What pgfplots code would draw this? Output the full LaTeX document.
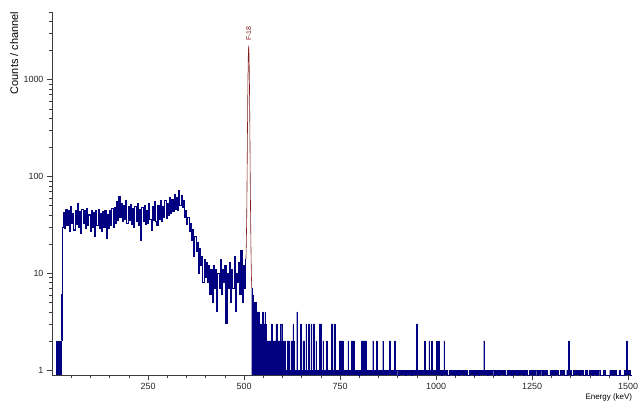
\documentclass[border=0pt]{standalone}
\usepackage{fontspec}
\setmainfont{Liberation Sans}
\usepackage{pgfplots}
\pgfplotsset{compat=1.18}
\definecolor{specblue}{RGB}{0,0,128}
\definecolor{roired}{RGB}{130,30,30}
\definecolor{axisgray}{RGB}{60,60,60}

\begin{document}
\begin{tikzpicture}
\useasboundingbox (-52bp,-28bp) rectangle (589bp,375bp);
\begin{axis}[
  scale only axis, width=580bp, height=363bp,
  at={(0,0)}, anchor=south west,
  xmin=0, xmax=1510, ymode=log, ymin=0.89, ymax=5000,
  axis x line=bottom, axis y line=left,
  axis line style={-, axisgray, line width=0.6pt},
  tick align=outside, major tick length=5bp, minor tick length=3bp,
  tick style={axisgray, line width=0.5pt},
  xtick={250,500,750,1000,1250,1500},
  xticklabels={250,500,750,1000,1250,1500},
  minor xtick={50,100,...,1500},
  ytick={1,10,100,1000}, yticklabels={1,10,100,1000},
  minor ytick={2,3,...,9,20,30,...,90,200,300,...,900,2000,3000,4000,5000},
  tick label style={font=\fontsize{9}{10}\selectfont, text=black!85},
  /pgf/number format/assume math mode=true,
  xlabel={Energy (keV)}, ylabel={Counts / channel},
  xlabel style={at={(axis description cs:0.96,-0.063)}, anchor=center, font=\fontsize{8}{9}\selectfont},
  ylabel style={at={(axis description cs:-0.065,0.887)}, anchor=center, font=\fontsize{11}{12}\selectfont},
]
% low-energy block
\addplot[fill=specblue, draw=specblue, line width=0.35pt] coordinates {
(11,0.89)(11,2)(25,2)(25,0.89)};
% continuum below the peak (channel counts), drawn as a line
\addplot[const plot, draw=specblue, line width=1.05pt] coordinates {
(25,2)(26,6)(27,30)
(30,42)(33,29)(36,46)(39,31)(42,44)(45,27)(48,49)(51,33)(54,41)(57,28)(60,45)(63,32)
(66,52)(69,30)(72,43)(75,26)(78,46)(81,33)(84,44)(87,29)(90,47)(93,31)(96,40)(99,27)
(102,45)(105,30)(108,42)(111,24)(114,44)(117,31)(120,46)(123,29)(126,41)(129,27)(132,43)
(135,30)(138,45)(141,23)(144,40)(147,29)(150,44)(153,31)(156,47)(159,30)
(162,48)(165,33)(168,55)(171,35)(174,62)(177,38)(180,52)(183,34)(186,50)(189,36)(192,57)
(195,33)(198,49)(201,35)(204,51)(207,32)(210,47)(213,30)(216,49)(219,34)(222,53)(225,31)
(228,46)(231,22)(234,48)(237,34)(240,50)(243,32)(246,45)(249,33)(252,52)(255,36)(258,28)
(261,49)(264,35)(267,55)(270,34)(273,31)(276,50)(279,36)(282,56)(285,34)(288,49)
(291,38)(294,57)(297,37)(300,53)(303,40)(306,61)(309,41)(312,58)(315,44)(318,65)(321,46)
(324,60)(327,45)(330,72)(333,50)(336,64)(339,48)
(342,56)(345,38)(348,45)(351,32)(354,38)(357,27)(360,33)(363,22)(366,28)(369,15)(372,24)
(375,17)(378,21)(381,10)(384,18)(387,12)(390,15)(393,8)(396,14)(399,9)(402,13)
(405,8)(408,12)(411,6)(414,11)(417,5)(420,12)(423,7)(426,11)(429,4)(432,10)(435,7)
(438,14)(441,6)(444,11)(447,8)(450,12)(453,3)(456,10)(459,7)(462,13)(465,5)(468,11)
(471,7)(474,15)(477,4)(480,10)(483,8)(486,13)(489,6)(492,17)(495,5)(498,12)(501,7)
(503,14)(505,14)
};
% spectrum above the peak
\addplot[const plot, fill=specblue, draw=specblue, line width=0.35pt] coordinates {
(520,0.89)(520,7)(522,3)(523,6)(525,2)(526,5)(528,3)(529,5)(531,2)(532,4)(534,2)(535,4)
(537,2)(538,4)(540,2)(541,3)(543,2)(544,3)(546,2)(548,4)(549,2)(551,3)(553,2)(554,4)
(555,3)(557,2)(560,2)(571,3)(573,2)(583,3)(585,2)(595,3)(598,2)(601,1)(605,2)(607,1)
(612,2)(618,1)(622,2)(627,3)(629,2)(631,1)(637,4)(639,1)(647,3)(649,1)(653,2)(657,1)
(661,3)(663,1)(668,3)(670,1)(674,3)(676,1)(679,3)(683,1)(687,2)(689,1)(696,3)(698,1)
(699,3)(701,1)(705,2)(707,1)(714,2)(716,1)(727,3)(729,1)(734,3)(736,1)(748,2)(757,1)
(770,2)(772,1)(779,2)(787,1)(797,0.89)(799,1)(805,2)(818,1)(835,2)(837,1)(844,2)(846,1)
(861,2)(863,1)(878,2)(880,1)(892,2)(894,1)(900,0.89)(904,1)(920,0.89)(922,1)(935,0.89)
(937,1)(948,3)(951,1)(970,2)(972,1)(981,2)(983,1)(988,2)(990,1)(1001,2)(1003,1)(1005,2)
(1007,1)(1013,0.89)(1016,1)(1020,2)(1022,1)(1030,0.89)(1033,1)(1046,0.89)(1049,1)
(1058,0.89)(1061,1)(1072,0.89)(1074,1)(1082,0.89)(1086,1)(1098,0.89)(1101,1)(1110,0.89)
(1113,1)(1124,2)(1126,1)(1132,0.89)(1136,1)(1150,0.89)(1153,1)(1162,0.89)(1165,1)
(1180,0.89)(1184,1)(1196,0.89)(1199,1)(1210,0.89)(1214,1)(1226,0.89)(1229,1)(1238,0.89)
(1242,1)(1252,0.89)(1256,1)(1262,0.89)(1266,1)(1275,0.89)(1278,1)(1290,0.89)(1296,1)
(1304,0.89)(1308,1)(1318,0.89)(1324,1)(1334,0.89)(1340,1)(1344,2)(1346,1)(1352,0.89)
(1358,1)(1372,0.89)(1376,1)(1384,0.89)(1388,1)(1394,0.89)(1398,1)(1406,0.89)(1410,1)
(1416,0.89)(1420,1)(1426,0.89)(1436,1)(1440,0.89)(1452,1)(1458,0.89)(1462,1)(1468,0.89)
(1476,1)(1480,0.89)(1490,1)(1496,2)(1498,1)(1506,0.89)(1510,0.89)
};
% F-18 annihilation peak (ROI), red outline
\addplot[roired, line width=0.6pt] coordinates {
(505,14)(506,22)(507,40)(508,110)(509,330)(510,900)(511,1750)(512,2250)(513,1800)
(514,950)(515,350)(516,110)(517,40)(518,18)(519,10)(520,7)
};
\node[rotate=90, anchor=west, inner sep=0pt, font=\fontsize{7}{8}\selectfont, text=roired]
  at (axis cs:512,2500) {F-18};
\end{axis}
\end{tikzpicture}
\end{document}
